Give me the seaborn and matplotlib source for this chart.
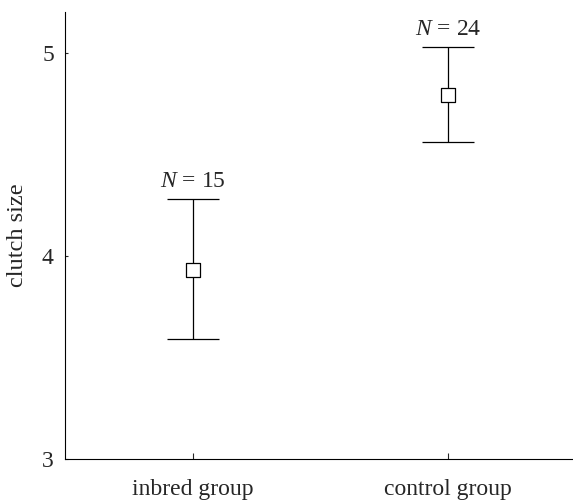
"""
Clutch size of inbred vs control group: mean with 95% CI.
"""

import matplotlib.pyplot as plt
import numpy as np
import pandas as pd
import seaborn as sns

groups = ["inbred group", "control group"]
mean_size = [3.93, 4.79]
ci_low = [3.59, 4.56]
ci_high = [4.28, 5.03]
n_birds = [15, 24]

sns.set_style("ticks")
plt.rcParams["font.family"] = ["Liberation Serif", "DejaVu Serif"]
plt.rcParams["mathtext.fontset"] = "custom"
plt.rcParams["mathtext.rm"] = "Liberation Serif"
plt.rcParams["mathtext.it"] = "Liberation Serif:italic"

df = pd.DataFrame({"group": groups, "mean": mean_size, "lo": ci_low, "hi": ci_high, "n": n_birds})
df["x"] = np.arange(len(df))

fig = plt.figure(figsize=(5.73, 5.01), dpi=100)
ax = fig.add_axes([0.1134, 0.0838, 0.8866, 0.8922])

# whiskers with caps
ax.errorbar(
    df["x"], df["mean"],
    yerr=[df["mean"] - df["lo"], df["hi"] - df["mean"]],
    fmt="none", ecolor="black", elinewidth=0.9, capsize=19, capthick=0.9, zorder=2,
)
sns.scatterplot(
    data=df, x="x", y="mean", ax=ax, marker="s", s=95,
    facecolor="white", edgecolor="black", linewidth=0.9, zorder=3, legend=False,
)

for _, row in df.iterrows():
    ax.annotate(
        f"$N$ = {row['n']}", (row["x"], row["hi"]), xytext=(0, 5),
        textcoords="offset points", ha="center", va="bottom", fontsize=17,
    )

ax.set_xlim(-0.5, 1.49)
ax.set_ylim(3, 5.2)
ax.set_xticks(df["x"])
ax.set_xticklabels(df["group"])
ax.set_yticks([3, 4, 5])
ax.set(xlabel=None)
ax.set_ylabel("clutch size", fontsize=17.5, labelpad=10)
ax.tick_params(axis="x", direction="in", length=4, width=0.8, pad=14.5, labelsize=17)
ax.tick_params(axis="y", direction="in", length=2, width=0.8, pad=8, labelsize=17)
for side in ["left", "bottom"]:
    ax.spines[side].set_linewidth(0.8)
    ax.spines[side].set_color("black")
sns.despine(ax=ax)

plt.savefig("out.png", dpi=100)
